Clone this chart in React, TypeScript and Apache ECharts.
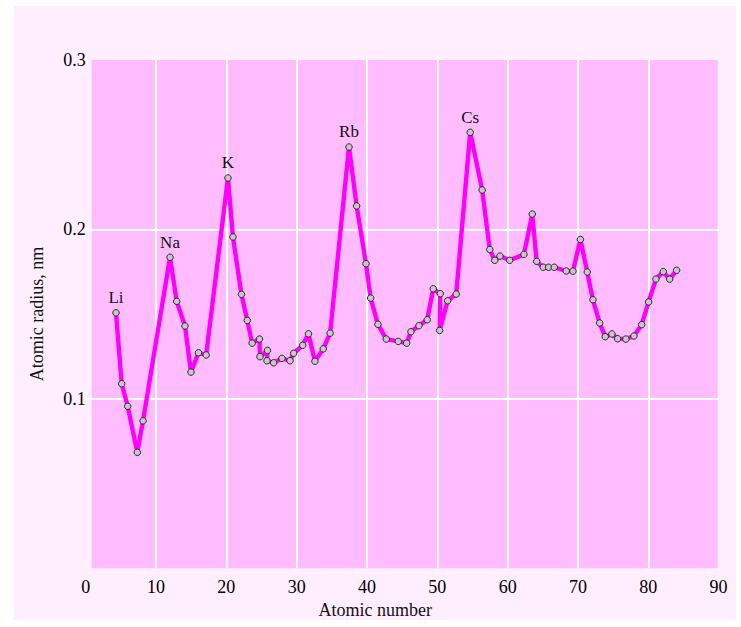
import React, { useEffect, useRef } from "react";
import * as echarts from "echarts";

// Atomic number (x, as drawn) and atomic radius in nm (y)
const atomicNumber = [
  4.31, 5.12, 5.97, 7.34, 8.15,
  11.99, 12.94, 14.12, 14.97, 16.04, 17.13,
  20.23, 20.94, 22.15, 22.98, 23.67, 24.71, 24.78, 25.85, 25.78, 26.73, 27.91, 29.05, 29.57, 30.85, 31.68, 32.6, 33.78, 34.76,
  37.44, 38.53, 39.86, 40.52, 41.56, 42.74, 44.45, 45.64, 46.25, 47.39, 48.57, 49.42, 50.42, 50.33, 51.47, 52.69,
  54.68, 56.38, 57.46, 58.17, 58.91, 60.29, 62.32, 63.5, 64.13, 65.06, 65.83, 66.63, 68.33, 69.29, 70.35, 71.32,
  72.13, 73.08, 73.88, 74.83, 75.64, 76.82, 77.96, 79.06, 80.05, 81.09, 82.13, 83.04, 84.03,
];
const atomicRadius = [
  0.1507, 0.1088, 0.0955, 0.0683, 0.0869,
  0.1835, 0.1575, 0.1429, 0.1157, 0.1271, 0.1258,
  0.2303, 0.1955, 0.1616, 0.1462, 0.1328, 0.1352, 0.1248, 0.1285, 0.1224, 0.1212, 0.1238, 0.1224, 0.1268, 0.1315, 0.1383, 0.1221, 0.1294, 0.1387,
  0.2486, 0.2138, 0.1797, 0.1594, 0.1439, 0.1352, 0.1338, 0.1328, 0.1395, 0.1431, 0.1466, 0.1649, 0.162, 0.1403, 0.1578, 0.1618,
  0.2573, 0.2232, 0.1881, 0.1817, 0.1842, 0.1817, 0.1852, 0.209, 0.1811, 0.1776, 0.1776, 0.1776, 0.1754, 0.1753, 0.194, 0.1748,
  0.1584, 0.1447, 0.1366, 0.1382, 0.1354, 0.1352, 0.137, 0.1437, 0.1571, 0.1706, 0.175, 0.1706, 0.1758,
];
// Index of the point and its element symbol
const labelIndex = [0, 5, 11, 29, 45];
const labelText = ["Li", "Na", "K", "Rb", "Cs"];

const xMin = 0;
const xMax = 90;
const xInterval = 10;
const yMin = 0;
const yMax = 0.3;
const yInterval = 0.1;

const FONT = "'Liberation Serif', 'Times New Roman', serif";

export default function App() {
  const ref = useRef<HTMLDivElement>(null);

  useEffect(() => {
    if (!ref.current) return;
    const chart = echarts.init(ref.current, null, { renderer: "svg" });

    const data = atomicNumber.map((x, i) => {
      const li = labelIndex.indexOf(i);
      const item: any = { value: [x, atomicRadius[i]] };
      if (li >= 0) {
        item.label = {
          show: true,
          formatter: labelText[li],
          position: "top",
          distance: 3,
          color: "#111",
          fontSize: 17,
          fontFamily: FONT,
        };
      }
      return item;
    });

    chart.setOption({
      animation: false,
      backgroundColor: "#ffffff",
      graphic: {
        elements: [
          {
            type: "rect",
            z: -100,
            silent: true,
            shape: { x: 14, y: 6, width: 722, height: 614 },
            style: { fill: "#ffeefe" },
          },
          {
            type: "rect",
            z: -99,
            silent: true,
            shape: { x: 91.7, y: 60, width: 626, height: 508.3 },
            style: { fill: "#ffbcff" },
          },
        ],
      },
      grid: {
        left: 85.7,
        right: 22.4,
        top: 60,
        bottom: 59,
        containLabel: false,
      },
      xAxis: {
        type: "value",
        min: xMin,
        max: xMax,
        interval: xInterval,
        name: "Atomic number",
        nameLocation: "middle",
        nameGap: 30,
        nameTextStyle: {
          fontFamily: FONT,
          fontSize: 18,
          color: "#111",
          padding: [0, 54, 0, 0],
        },
        axisLine: { show: false },
        axisTick: { show: false },
        axisLabel: {
          margin: 10,
          fontFamily: FONT,
          fontSize: 18,
          color: "#000",
        },
        splitLine: {
          show: true,
          showMinLine: false,
          showMaxLine: false,
          lineStyle: { color: "#ffffff", width: 2 },
        },
      },
      yAxis: {
        type: "value",
        min: yMin,
        max: yMax,
        interval: yInterval,
        name: "Atomic radius, nm",
        nameLocation: "middle",
        nameGap: 40,
        nameTextStyle: {
          fontFamily: FONT,
          fontSize: 18,
          color: "#111",
        },
        axisLine: { show: false },
        axisTick: { show: false },
        axisLabel: {
          margin: 0,
          showMinLabel: false,
          fontFamily: FONT,
          fontSize: 18,
          color: "#000",
          formatter: (v: number) => v.toFixed(1),
        },
        splitLine: {
          show: true,
          showMinLine: false,
          showMaxLine: false,
          lineStyle: { color: "#ffffff", width: 2 },
        },
      },
      series: [
        {
          type: "line",
          data,
          symbol: "circle",
          symbolSize: 6.5,
          lineStyle: { color: "#ff00ff", width: 4.4, join: "round" },
          itemStyle: { color: "#c8c8c8", borderColor: "#2a2a2a", borderWidth: 1 },
          z: 3,
        },
      ],
    });

    return () => chart.dispose();
  }, []);

  return (
    <div
      ref={ref}
      style={{ position: "absolute", left: 0, top: 0, width: 741, height: 627 }}
    />
  );
}
